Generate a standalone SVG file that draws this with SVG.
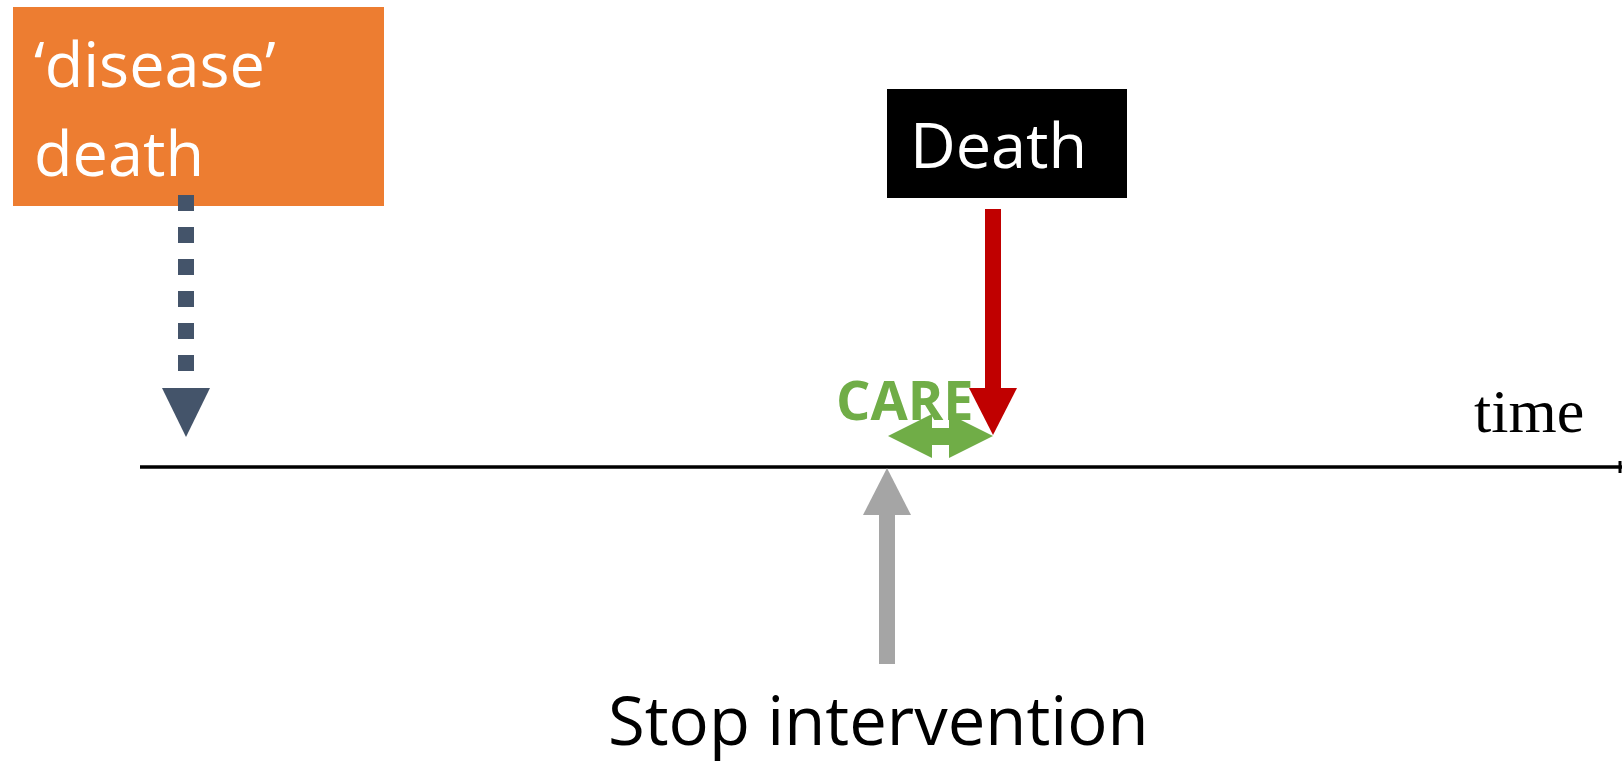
<svg xmlns="http://www.w3.org/2000/svg" width="1622" height="762" viewBox="0 0 1622 762">
<style>
.lbl{font-family:"Open Sans","Liberation Sans",sans-serif;fill:#fff;font-size:63px}
</style>
<rect width="1622" height="762" fill="#fff"/>
<g id="disease-death">
<rect x="13" y="7" width="371" height="199" fill="#ED7D31"/>
<text class="lbl" x="34" y="87">‘disease’</text>
<text class="lbl" x="34" y="176">death</text>
</g>
<g id="death">
<rect x="887" y="89" width="240" height="109" fill="#000"/>
<text class="lbl" x="910" y="168">Death</text>
</g>
<g id="care">
<text x="836" y="420" font-family="Open Sans, Liberation Sans, sans-serif" font-weight="bold" font-size="54" fill="#70AD47">CARE</text>
</g>
<g id="time-label">
<text x="1474" y="432" font-family="Liberation Serif, serif" font-size="62" fill="#000">time</text>
</g>
<g id="stop-intervention">
<text x="608" y="745" font-family="Open Sans, Liberation Sans, sans-serif" font-size="67" fill="#000">Stop intervention</text>
</g>
<g id="connectors">
<line x1="140" y1="467" x2="1622" y2="467" stroke="#000" stroke-width="3.5"/>
<line x1="1620" y1="461" x2="1620" y2="473" stroke="#000" stroke-width="3"/>
<line x1="186" y1="195" x2="186" y2="386" stroke="#44546A" stroke-width="16" stroke-dasharray="16 16"/>
<polygon points="162,388 210,388 186,437" fill="#44546A"/>
<rect x="985" y="209" width="16" height="180" fill="#C00000"/>
<polygon points="969,388 1017,388 993,435" fill="#C00000"/>
<polygon points="888,436 932,414 932,428 949,428 949,414 993,436 949,458 949,445 932,445 932,458" fill="#70AD47"/>
<rect x="879" y="513" width="16" height="151" fill="#A5A5A5"/>
<polygon points="887,468 911,515 863,515" fill="#A5A5A5"/>
</g>
</svg>
